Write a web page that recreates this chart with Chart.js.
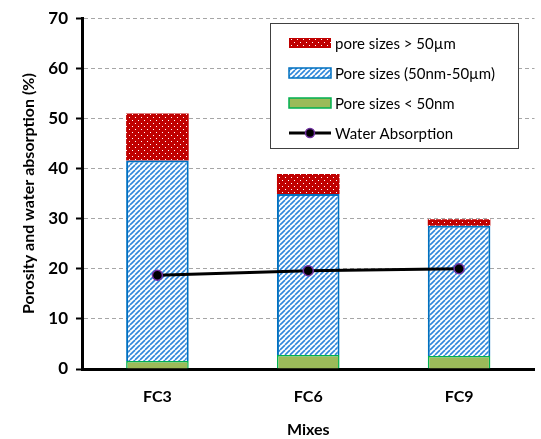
<!DOCTYPE html>
<html>
<head>
<meta charset="utf-8">
<script src="https://cdn.jsdelivr.net/npm/chart.js@4.4.1/dist/chart.umd.min.js"></script>
<style>
  html, body { margin: 0; padding: 0; background: #fff; }
  #wrap { width: 541px; height: 439px; }
</style>
</head>
<body>
<div id="wrap"><canvas id="chart" width="541" height="439"></canvas></div>
<script>
// Pore size distribution and water absorption per mix
const mixes        = ['FC3', 'FC6', 'FC9'];
const poresSmall   = [1.6, 2.8, 2.6];    // < 50nm
const poresMedium  = [40.0, 32.1, 26.0]; // 50nm - 50µm
const poresLarge   = [9.4, 4.0, 1.3];    // > 50µm
const waterAbs     = [18.7, 19.6, 20.0];
const yTicks       = [0, 10, 20, 30, 40, 50, 60, 70];

const FONT = "Lato, 'DejaVu Sans', sans-serif";

// ── FILL PATTERNS ────────────────────────────────────────────
function dotPattern() {
  const c = document.createElement('canvas');
  c.width = 6; c.height = 6;
  const g = c.getContext('2d');
  g.fillStyle = '#C00000';
  g.fillRect(0, 0, 6, 6);
  g.fillStyle = '#ffffff';
  g.fillRect(0, 0, 1, 1);
  g.fillRect(3, 3, 1, 1);
  return g.createPattern(c, 'repeat');
}

function stripePattern() {
  const n = 5;
  const c = document.createElement('canvas');
  c.width = n; c.height = n;
  const g = c.getContext('2d');
  g.fillStyle = '#ffffff';
  g.fillRect(0, 0, n, n);
  // upward diagonal, wrapped so the tile joins seamlessly
  g.strokeStyle = '#2F86DA';
  g.lineWidth = 1.6;
  [-n, 0, n].forEach(off => {
    g.beginPath();
    g.moveTo(off, n);
    g.lineTo(off + n, 0);
    g.stroke();
  });
  return g.createPattern(c, 'repeat');
}

const redFill  = dotPattern();
const blueFill = stripePattern();

// ── LEGEND BOX (drawn inside the plot) ───────────────────────
const boxLegend = {
  id: 'boxLegend',
  afterDraw(chart) {
    const ctx = chart.ctx;
    const x0 = 270, y0 = 23, w = 248, h = 125;
    ctx.save();
    ctx.fillStyle = '#fff';
    ctx.fillRect(x0, y0, w, h);
    ctx.strokeStyle = '#404040';
    ctx.lineWidth = 1;
    ctx.strokeRect(x0 + 0.5, y0 + 0.5, w, h);

    const ds = chart.data.datasets;
    const order = [2, 1, 0, 3];
    const sx = 289, sw = 42, sh = 10;
    ctx.font = '15px ' + FONT;
    ctx.textBaseline = 'middle';
    order.forEach((i, row) => {
      const cy = 43 + row * 30;
      const d = ds[i];
      if (d.type === 'line') {
        ctx.strokeStyle = '#000';
        ctx.lineWidth = 3;
        ctx.beginPath();
        ctx.moveTo(sx, cy);
        ctx.lineTo(sx + sw, cy);
        ctx.stroke();
        ctx.beginPath();
        ctx.arc(sx + sw / 2, cy, 4.5, 0, Math.PI * 2);
        ctx.fillStyle = '#000';
        ctx.fill();
        ctx.strokeStyle = '#7030A0';
        ctx.lineWidth = 1.5;
        ctx.stroke();
      } else {
        ctx.fillStyle = d.backgroundColor;
        ctx.fillRect(sx, cy - sh / 2, sw, sh);
        if (d.borderWidth) {
          ctx.strokeStyle = d.borderColor;
          ctx.lineWidth = 1.5;
          ctx.strokeRect(sx, cy - sh / 2, sw, sh);
        }
      }
      ctx.fillStyle = '#000';
      ctx.fillText(d.label, 335, cy + 1);
    });
    ctx.restore();
  }
};

new Chart(document.getElementById('chart'), {
  type: 'bar',
  data: {
    labels: mixes,
    datasets: [
      {
        label: 'Pore sizes < 50nm',
        data: poresSmall,
        stack: 'pores',
        order: 1,
        backgroundColor: '#9BBB59',
        borderColor: '#00B050',
        borderWidth: 1.5,
      },
      {
        label: 'Pore sizes (50nm-50µm)',
        data: poresMedium,
        stack: 'pores',
        order: 1,
        backgroundColor: blueFill,
        borderColor: '#0070C0',
        borderWidth: 2,
      },
      {
        label: 'pore sizes > 50µm',
        data: poresLarge,
        stack: 'pores',
        order: 1,
        backgroundColor: redFill,
        borderWidth: 0,
      },
      {
        type: 'line',
        label: 'Water Absorption',
        data: waterAbs,
        stack: 'water',
        order: 0,
        borderColor: '#000',
        borderWidth: 3,
        pointRadius: 5,
        pointBackgroundColor: '#000',
        pointBorderColor: '#7030A0',
        pointBorderWidth: 1.5,
        tension: 0,
      },
    ],
  },
  options: {
    responsive: false,
    animation: false,
    barPercentage: 0.415,
    categoryPercentage: 1,
    layout: { padding: { top: 16, right: 3, left: 0, bottom: 0 } },
    plugins: {
      legend: { display: false },
      tooltip: { enabled: false },
    },
    scales: {
      x: {
        stacked: true,
        grid: { display: false, drawTicks: false },
        border: { color: '#000', width: 3 },
        ticks: {
          color: '#000',
          padding: 18,
          font: { family: FONT, size: 16, weight: 'bold' },
        },
        title: {
          display: true,
          text: 'Mixes',
          color: '#000',
          padding: { top: 4, bottom: 0 },
          font: { family: FONT, size: 16, weight: 'bold' },
        },
        afterFit: s => { s.height = 70; },
      },
      y: {
        stacked: true,
        min: 0,
        max: 70,
        afterBuildTicks: s => { s.ticks = yTicks.map(v => ({ value: v })); },
        grid: {
          color: '#A6A6A6',
          lineWidth: 1,
          tickLength: 6,
          tickColor: '#000',
          tickWidth: 2,
          tickBorderDash: [],
        },
        // in v4 border.dash sets the dash of the grid lines
        border: { color: '#000', width: 3, dash: [4, 3] },
        ticks: {
          color: '#000',
          padding: 8,
          font: { family: FONT, size: 17, weight: 'bold' },
        },
        title: {
          display: true,
          text: 'Porosity and water absorption (%)',
          color: '#000',
          padding: { top: 19, bottom: 0 },
          font: { family: FONT, size: 16, weight: 'bold' },
        },
        afterFit: s => { s.width = 82; },
      },
    },
  },
  plugins: [boxLegend],
});
</script>
</body>
</html>
